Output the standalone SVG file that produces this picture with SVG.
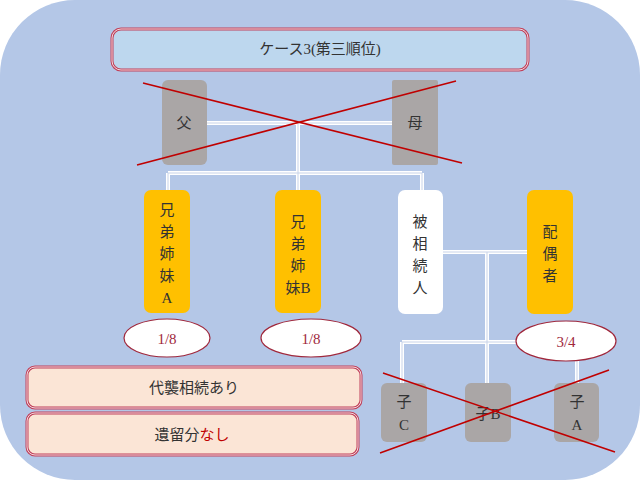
<svg xmlns="http://www.w3.org/2000/svg" width="640" height="480" viewBox="0 0 640 480">
<style>
text{font-family:"Liberation Serif","Noto Sans CJK JP",serif;font-size:15px;fill:#333;text-anchor:middle}
.g{fill:#aaa6a6}
.o{fill:#ffc000}
.w{fill:#fff}
.ln{fill:none;stroke:#fff;stroke-width:4}
.li{fill:none;stroke:#c8d3e8;stroke-width:1}
.x{stroke:#c00000;stroke-width:1.6}
.el{fill:#fff;stroke:#a0283c;stroke-width:1.2}
.r{fill:#c00000}
.bx{stroke:#c0405a;stroke-width:3}
.bxi{fill:none;stroke:#fff;stroke-width:0.8}
</style>
<rect width="640" height="480" fill="#fff"/>
<rect x="0" y="0" width="640" height="480" rx="75" fill="#b4c7e7"/>
<g id="title"><rect x="112" y="29" width="416" height="41" rx="9" fill="#bdd7ee" class="bx"/><rect x="112" y="29" width="416" height="41" rx="9" class="bxi"/><text x="320" y="54">ケース3(第三順位)</text></g>
<g id="connectors">
<path class="ln" d="M207 123H392M298 123V173M168 173H422M168 173V190M298 173V190M422 173V190M443 252H527M487 252V384M402 342H517M402 342V384M577 360V384"/>
<path class="li" d="M207 123H392M298 123V173M168 173H422M168 173V190M298 173V190M422 173V190M443 252H527M487 252V384M402 342H517M402 342V384M577 360V384"/>
</g>
<g id="father"><rect class="g" x="162" y="80" width="45" height="85" rx="6"/><text x="184" y="128">父</text></g>
<g id="mother"><rect class="g" x="392" y="80" width="46" height="85" rx="2"/><text x="415" y="128">母</text></g>
<g id="cross1"><line class="x" x1="143" y1="83" x2="462" y2="163"/><line class="x" x1="137" y1="165" x2="456" y2="81"/></g>
<g id="sibA"><rect class="o" x="144" y="190" width="46" height="123" rx="7"/><text x="167" y="215">兄</text><text x="167" y="237">弟</text><text x="167" y="259">姉</text><text x="167" y="281">妹</text><text x="167" y="303">A</text></g>
<g id="sibB"><rect class="o" x="275" y="190" width="46" height="123" rx="7"/><text x="298" y="227">兄</text><text x="298" y="249">弟</text><text x="298" y="271">姉</text><text x="298" y="293">妹B</text></g>
<g id="deceased"><rect class="w" x="398" y="190" width="45" height="124" rx="7"/><text x="420" y="227">被</text><text x="420" y="249">相</text><text x="420" y="271">続</text><text x="420" y="293">人</text></g>
<g id="spouse"><rect class="o" x="527" y="190" width="46" height="124" rx="7"/><text x="550" y="237">配</text><text x="550" y="259">偶</text><text x="550" y="281">者</text></g>
<g id="shareA"><ellipse class="el" cx="167" cy="338" rx="43" ry="19"/><text x="167" y="344" class="r" style="fill:#a0283c">1/8</text></g>
<g id="shareB"><ellipse class="el" cx="311" cy="338" rx="50" ry="19"/><text x="311" y="344" style="fill:#a0283c">1/8</text></g>
<g id="shareS"><ellipse class="el" cx="566" cy="341" rx="50" ry="20"/><text x="566" y="347" style="fill:#a0283c">3/4</text></g>
<g id="childC"><rect class="g" x="381" y="383" width="46" height="59" rx="6"/><text x="404" y="407">子</text><text x="404" y="430">C</text></g>
<g id="childB"><rect class="g" x="465" y="383" width="46" height="59" rx="6"/><text x="488" y="419">子B</text></g>
<g id="childA"><rect class="g" x="554" y="383" width="45" height="59" rx="6"/><text x="577" y="407">子</text><text x="577" y="430">A</text></g>
<g id="cross2"><line class="x" x1="383" y1="373" x2="615" y2="452"/><line class="x" x1="380" y1="453" x2="609" y2="370"/></g>
<g id="daishu"><rect x="27" y="367" width="334" height="41" rx="8" fill="#fbe5d6" class="bx"/><rect x="27" y="367" width="334" height="41" rx="8" class="bxi"/><text x="194" y="393">代襲相続あり</text></g>
<g id="iryu"><rect x="27" y="413" width="331" height="42" rx="8" fill="#fbe5d6" class="bx"/><rect x="27" y="413" width="331" height="42" rx="8" class="bxi"/><text x="192" y="440">遺留分<tspan class="r">なし</tspan></text></g>
</svg>
